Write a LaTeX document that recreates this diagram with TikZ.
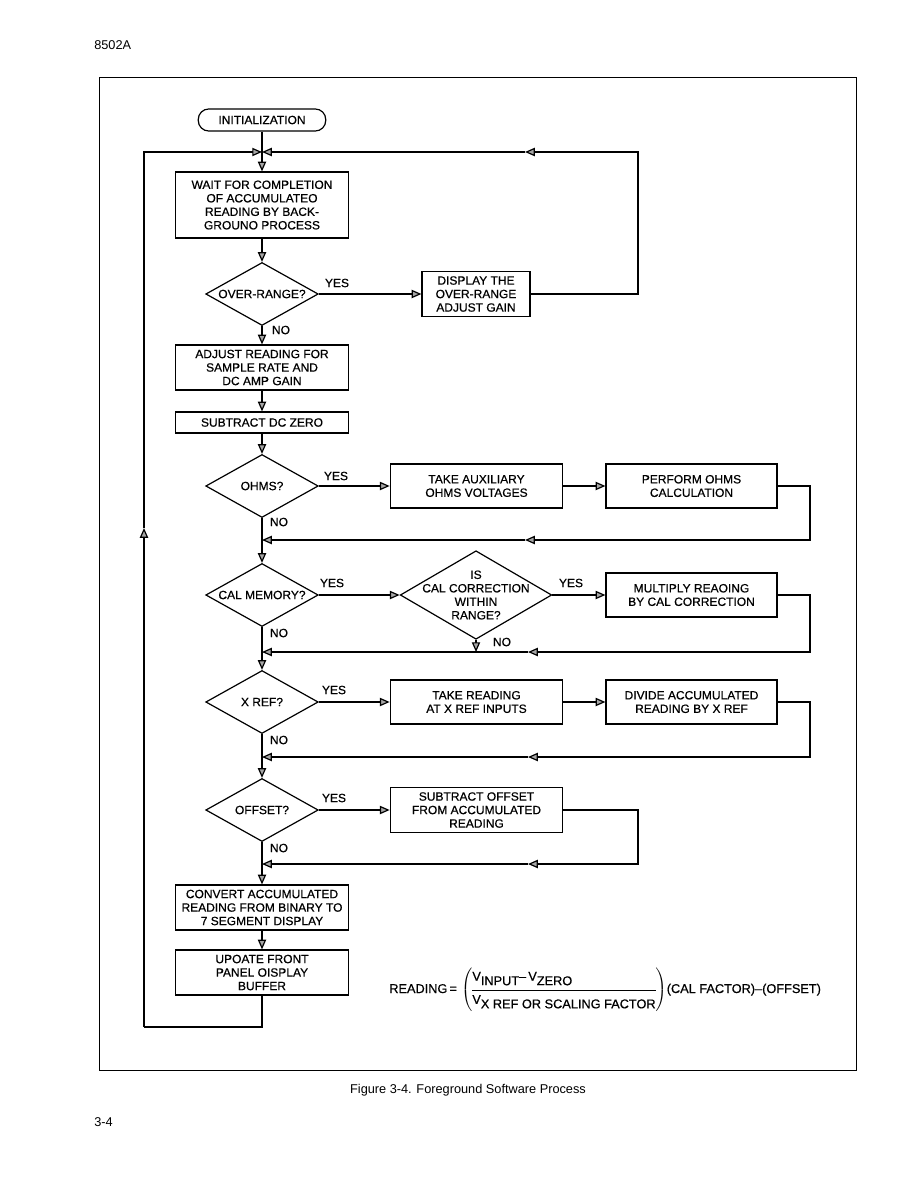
\documentclass[tikz,border=0pt]{standalone}
\usepackage{amsmath}
\usepackage{fontspec}
\setmainfont{Liberation Sans}
\newfontfamily\fcface{Liberation Sans}[FakeBold=0.6]
\usepackage{tikz}
\usetikzlibrary{arrows.meta, positioning, shapes.geometric}
\newcommand{\fcfont}{\fcface\fontsize{8}{9}\selectfont}

\begin{document}
\begin{tikzpicture}[x=0.6667pt, y=-0.6667pt,
  proc/.style={draw, line width=0.8pt, rectangle, align=center, font=\fcfont, minimum width=115pt, minimum height=30pt, inner sep=1pt},
  dec/.style={draw, line width=0.8pt, diamond, minimum width=75pt, minimum height=42pt, inner sep=0pt},
  dtext/.style={font=\fcfont, align=center, inner sep=0pt},
  flow/.style={line width=0.8pt, -{Triangle[length=6.5pt, width=5.5pt, fill=gray!70]}},
  plain/.style={line width=0.8pt},
  ans/.style={font=\fcfont, inner sep=1pt}]
  \useasboundingbox (0,0) rectangle (918,1188);
  \node[anchor=west, font=\fontsize{8.5}{10}\selectfont] (hdr) at (89,45) {8502A};
  \draw[line width=0.6pt] (99,77) rectangle (856,1070);
  % main column
  \node[draw, line width=0.8pt, rounded corners=7pt, font=\fcfont, minimum width=85pt, minimum height=14.7pt] (init) at (262,120) {INITIALIZATION};
  \node[proc, minimum height=44pt] (wait) at (262,205) {WAIT FOR COMPLETION\\OF ACCUMULATEO\\READING BY BACK-\\GROUNO PROCESS};
  \node[dec] (ovr) at (262,294) {};
  \node[dtext] (ovrT) at (ovr) {OVER-RANGE?};
  \node[proc, minimum width=72pt] (disp) at (476,294) {DISPLAY THE\\OVER-RANGE\\ADJUST GAIN};
  \node[proc] (adj) at (262,367.5) {ADJUST READING FOR\\SAMPLE RATE AND\\DC AMP GAIN};
  \node[proc, minimum height=14pt] (dcz) at (262,422.5) {SUBTRACT DC ZERO};
  \node[dec] (ohm) at (262,486) {};
  \node[dtext] (ohmT) at (ohm) {OHMS?};
  \node[proc, minimum height=29.3pt] (aux) at (476.5,486) {TAKE AUXILIARY\\OHMS VOLTAGES};
  \node[proc, minimum height=29.3pt, minimum width=114pt] (perf) at (691.5,486) {PERFORM OHMS\\CALCULATION};
  \node[dec] (cal) at (262,595) {};
  \node[dtext] (calT) at (cal) {CAL MEMORY?};
  \node[dec, minimum width=101pt, minimum height=59pt] (isr) at (476,595) {};
  \node[dtext] (isrT) at (isr) {IS\\CAL CORRECTION\\WITHIN\\RANGE?};
  \node[proc, minimum height=29.3pt, minimum width=114pt] (mult) at (691.5,595) {MULTIPLY REAOING\\BY CAL CORRECTION};
  \node[dec] (xrf) at (262,702) {};
  \node[dtext] (xrfT) at (xrf) {X REF?};
  \node[proc, minimum height=29.3pt] (tkr) at (476.5,702) {TAKE READING\\AT X REF INPUTS};
  \node[proc, minimum height=29.3pt, minimum width=114pt] (divr) at (691.5,702) {DIVIDE ACCUMULATED\\READING BY X REF};
  \node[dec] (off) at (262,810) {};
  \node[dtext] (offT) at (off) {OFFSET?};
  \node[proc] (soff) at (476.5,810) {SUBTRACT OFFSET\\FROM ACCUMULATED\\READING};
  \node[proc] (conv) at (262,907.5) {CONVERT ACCUMULATED\\READING FROM BINARY TO\\7 SEGMENT DISPLAY};
  \node[proc] (upd) at (262,972.5) {UPOATE FRONT\\PANEL OISPLAY\\BUFFER};
  % junctions
  \coordinate (jt) at (262,152);
  \coordinate (rt) at (638,152);
  \coordinate (mt) at (525,152);
  \coordinate (lb) at (144,1027);
  \coordinate (lm) at (144,528);
  \coordinate (j1) at (262,540);
  \coordinate (r1) at (810,540);
  \coordinate (m1) at (525,540);
  \coordinate (j2) at (262,652);
  \coordinate (r2) at (810,652);
  \coordinate (m2) at (528,652);
  \coordinate (n2) at (476,652);
  \coordinate (j3) at (262,757);
  \coordinate (r3) at (810,757);
  \coordinate (m3) at (528,757);
  \coordinate (j4) at (262,864);
  \coordinate (r4) at (638,864);
  \coordinate (m4) at (528,864);
  % down the column
  \draw[flow] (init) -- (wait);
  \draw[flow] (wait) -- (ovr);
  \draw[flow] (ovr) -- (adj);
  \draw[flow] (adj) -- (dcz);
  \draw[flow] (dcz) -- (ohm);
  \draw[plain] (ohm) -- (j1);
  \draw[flow] (j1) -- (cal);
  \draw[plain] (cal) -- (j2);
  \draw[flow] (j2) -- (xrf);
  \draw[plain] (xrf) -- (j3);
  \draw[flow] (j3) -- (off);
  \draw[plain] (off) -- (j4);
  \draw[flow] (j4) -- (conv);
  \draw[flow] (conv) -- (upd);
  % outer loops
  \draw[flow] (ovr) -- (disp);
  \draw[flow] (disp.east) -| (rt) -- (mt);
  \draw[flow] (mt) -- (jt);
  \draw[plain] (upd) |- (lb);
  \draw[flow] (lb) -- (lm);
  \draw[flow] (lm) |- (jt);
  % branches
  \draw[flow] (ohm) -- (aux);
  \draw[flow] (aux) -- (perf);
  \draw[flow] (perf.east) -| (r1) -- (m1);
  \draw[flow] (m1) -- (j1);
  \draw[flow] (cal) -- (isr);
  \draw[flow] (isr) -- (mult);
  \draw[flow] (isr) -- (n2);
  \draw[flow] (mult.east) -| (r2) -- (m2);
  \draw[flow] (m2) -- (j2);
  \draw[flow] (xrf) -- (tkr);
  \draw[flow] (tkr) -- (divr);
  \draw[flow] (divr.east) -| (r3) -- (m3);
  \draw[flow] (m3) -- (j3);
  \draw[flow] (off) -- (soff);
  \draw[flow] (soff.east) -| (r4) -- (m4);
  \draw[flow] (m4) -- (j4);
  % yes / no
  \node[ans] (y1) at (337,283) {YES};
  \node[ans] (n1) at (281,330) {NO};
  \node[ans] (y2) at (336,476) {YES};
  \node[ans] (n3) at (279,522) {NO};
  \node[ans] (y3) at (332,583) {YES};
  \node[ans] (y4) at (571,583) {YES};
  \node[ans] (n4) at (279,633) {NO};
  \node[ans] (n5) at (502,642) {NO};
  \node[ans] (y5) at (334,690) {YES};
  \node[ans] (n6) at (279,740) {NO};
  \node[ans] (y6) at (334,798) {YES};
  \node[ans] (n7) at (279,848) {NO};
  % formula
  \node[anchor=west, font=\fcface\fontsize{8.5}{10}\selectfont, inner sep=0pt] (frm) at (389,990) {READING\,=\,\,$\left(\begin{array}{@{}l@{}}\rule[-6pt]{0pt}{15pt}\text{V\raisebox{-3pt}{INPUT}–\,V\raisebox{-3pt}{ZERO}}\\ \hline \rule[-6pt]{0pt}{15pt}\text{V\raisebox{-3pt}{X REF OR SCALING FACTOR}}\end{array}\right)$(CAL FACTOR)–(OFFSET)};
  % caption
  \node[font=\fontsize{8.5}{10}\selectfont] (cap) at (468,1090) {Figure 3-4. Foreground Software Process};
  \node[anchor=west, font=\fontsize{8.5}{10}\selectfont] (pg) at (89,1122) {3-4};
\end{tikzpicture}
\end{document}
